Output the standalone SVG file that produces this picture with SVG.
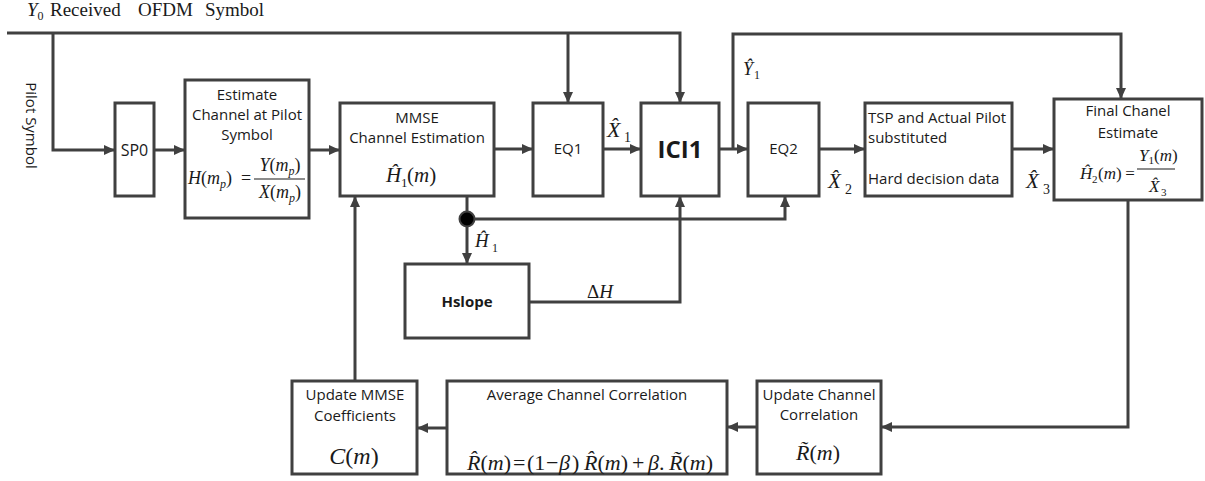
<svg xmlns="http://www.w3.org/2000/svg" width="1205" height="481" viewBox="0 0 1205 481">
<style>
.box{fill:#fff;stroke:#404040;stroke-width:3}
.ln{fill:none;stroke:#404040;stroke-width:3}
.ar{marker-end:url(#ah)}
.t{font-family:"Open Sans",sans-serif;font-size:15px;fill:#1a1a1a;text-anchor:middle}
.tl{font-family:"Open Sans",sans-serif;font-size:15px;fill:#1a1a1a}
.b{font-weight:bold}
.mu{font-family:"Liberation Serif",serif;fill:#1a1a1a}
.it{font-style:italic}
.c{text-anchor:middle}
</style>
<defs>
<marker id="ah" markerUnits="userSpaceOnUse" markerWidth="12" markerHeight="12" refX="11" refY="6" orient="auto">
<path d="M0,1 L11,6 L0,11 z" fill="#404040"/>
</marker>
</defs>
<rect width="1205" height="481" fill="#fff"/>

<g id="labels">
<text class="mu" x="27" y="16" font-size="19"><tspan class="it">Y</tspan><tspan font-size="12" dy="4">0</tspan><tspan dy="-4" x="50">Received</tspan><tspan x="138">OFDM</tspan><tspan x="205">Symbol</tspan></text>
<text class="t" x="0" y="0" dominant-baseline="central" transform="translate(32,125.5) rotate(90)">Pilot Symbol</text>
</g>

<g id="connectors">
<path class="ln ar" d="M7,33 H680 V103"/>
<path class="ln ar" d="M53,33 V150 H115"/>
<path class="ln ar" d="M568,33 V103"/>
<path class="ln ar" d="M154,150 H185"/>
<path class="ln ar" d="M309,150 H340"/>
<path class="ln ar" d="M494,149 H533"/>
<path class="ln ar" d="M603,149 H641"/>
<path class="ln ar" d="M719,149 H748"/>
<path class="ln ar" d="M733,149 V34 H1121 V99"/>
<path class="ln ar" d="M819,149 H865"/>
<path class="ln ar" d="M1012,149 H1054"/>
<path class="ln ar" d="M467,196 V264"/>
<path class="ln ar" d="M467,219 H785 V196"/>
<path class="ln ar" d="M529,302 H680 V196"/>
<path class="ln ar" d="M1128,200 V427 H881"/>
<path class="ln ar" d="M757,427 H727"/>
<path class="ln ar" d="M447,428 H417"/>
<path class="ln ar" d="M355,381 V196"/>
<circle cx="467" cy="219" r="7.5" fill="#000" stroke="#404040" stroke-width="2"/>
<text class="mu" x="607" y="137" font-size="22"><tspan class="it">X&#x302;</tspan><tspan font-size="14" dy="5" x="624">1</tspan></text>
<text class="mu" x="743" y="75" font-size="18"><tspan class="it">Y&#x302;</tspan><tspan font-size="12" dy="4" x="754">1</tspan></text>
<text class="mu" x="828" y="188" font-size="21"><tspan class="it">X&#x302;</tspan><tspan font-size="14" dy="6" x="845">2</tspan></text>
<text class="mu" x="1026" y="188" font-size="21"><tspan class="it">X&#x302;</tspan><tspan font-size="14" dy="6" x="1043">3</tspan></text>
<text class="mu" x="475" y="247" font-size="19"><tspan class="it">H&#x302;</tspan><tspan font-size="12" dy="5" x="492">1</tspan></text>
<text class="mu" x="587" y="298" font-size="19">Δ<tspan class="it">H</tspan></text>
</g>

<g id="sp0">
<rect class="box" x="115" y="103" width="39" height="93"/>
<text class="t" x="134.5" y="156" style="font-size:16px">SP0</text>
</g>

<g id="estimate">
<rect class="box" x="185" y="80" width="124" height="138"/>
<text class="t" x="247" y="100">Estimate</text>
<text class="t" x="247" y="120">Channel at Pilot</text>
<text class="t" x="247" y="140">Symbol</text>
<text class="mu" x="188" y="184" font-size="18"><tspan class="it">H</tspan>(<tspan class="it">m</tspan><tspan class="it" font-size="12" dy="4">p</tspan><tspan dy="-4">)</tspan></text>
<text class="mu c" x="246" y="184" font-size="18">=</text>
<line x1="254" y1="179" x2="305" y2="179" stroke="#1a1a1a" stroke-width="1.2"/>
<text class="mu c" x="280" y="171" font-size="18"><tspan class="it">Y</tspan>(<tspan class="it">m</tspan><tspan class="it" font-size="12" dy="4">p</tspan><tspan dy="-4">)</tspan></text>
<text class="mu c" x="280" y="198" font-size="18"><tspan class="it">X</tspan>(<tspan class="it">m</tspan><tspan class="it" font-size="12" dy="4">p</tspan><tspan dy="-4">)</tspan></text>
</g>

<g id="mmse">
<rect class="box" x="340" y="103" width="154" height="93"/>
<text class="t" x="417" y="123">MMSE</text>
<text class="t" x="417" y="143">Channel Estimation</text>
<text class="mu" x="386" y="182" font-size="21"><tspan class="it">H&#x302;</tspan><tspan font-size="13" dy="5" x="401">1</tspan><tspan dy="-5" x="407">(</tspan><tspan class="it">m</tspan>)</text>
</g>

<g id="eq1">
<rect class="box" x="533" y="103" width="70" height="93"/>
<text class="t" x="568" y="154">EQ1</text>
</g>

<g id="ici1">
<rect class="box" x="641" y="103" width="78" height="93"/>
<text class="t b" x="680" y="158" style="font-size:24px">ICI1</text>
</g>

<g id="eq2">
<rect class="box" x="748" y="103" width="71" height="93"/>
<text class="t" x="783.5" y="154">EQ2</text>
</g>

<g id="tsp">
<rect class="box" x="865" y="103" width="147" height="93"/>
<text class="tl" x="868" y="123">TSP and Actual Pilot</text>
<text class="tl" x="868" y="143">substituted</text>
<text class="tl" x="868" y="184">Hard decision data</text>
</g>

<g id="final">
<rect class="box" x="1054" y="99" width="148" height="101"/>
<text class="t" x="1128" y="116">Final Chanel</text>
<text class="t" x="1128" y="138">Estimate</text>
<text class="mu" x="1080" y="179" font-size="17"><tspan class="it">H&#x302;</tspan><tspan font-size="11" dy="4" x="1092">2</tspan><tspan dy="-4" x="1098">(</tspan><tspan class="it">m</tspan>)</text>
<text class="mu c" x="1130" y="179" font-size="17">=</text>
<line x1="1137" y1="169" x2="1175" y2="169" stroke="#1a1a1a" stroke-width="1.2"/>
<text class="mu" x="1139" y="161" font-size="17"><tspan class="it">Y</tspan><tspan font-size="11" dy="3">1</tspan><tspan dy="-3">(</tspan><tspan class="it">m</tspan>)</text>
<text class="mu" x="1149" y="192" font-size="17"><tspan class="it">X&#x302;</tspan><tspan font-size="11" dy="4" x="1161">3</tspan></text>
</g>

<g id="hslope">
<rect class="box" x="405" y="264" width="124" height="74"/>
<text class="t b" x="467" y="307">Hslope</text>
</g>

<g id="update-mmse">
<rect class="box" x="292" y="381" width="125" height="93"/>
<text class="t" x="355" y="400">Update MMSE</text>
<text class="t" x="355" y="421">Coefficients</text>
<text class="mu c" x="354" y="464" font-size="24"><tspan class="it">C</tspan>(<tspan class="it">m</tspan>)</text>
</g>

<g id="average">
<rect class="box" x="447" y="381" width="280" height="93"/>
<text class="t" x="587" y="400">Average Channel Correlation</text>
<text class="mu" x="467" y="470" font-size="22"><tspan class="it">R&#x302;</tspan>(<tspan class="it">m</tspan>)<tspan x="513">=</tspan><tspan x="527">(1</tspan><tspan x="546">−</tspan><tspan class="it" x="559">β</tspan><tspan x="572">)</tspan><tspan class="it" x="584">R&#x302;</tspan>(<tspan class="it">m</tspan>)<tspan x="632">+</tspan><tspan class="it" x="648">β</tspan>.<tspan class="it" x="669">R&#x303;</tspan>(<tspan class="it">m</tspan>)</text>
</g>

<g id="update-correlation">
<rect class="box" x="757" y="381" width="124" height="93"/>
<text class="t" x="819" y="400">Update Channel</text>
<text class="t" x="819" y="420">Correlation</text>
<text class="mu" x="796" y="460" font-size="22"><tspan class="it">R&#x303;</tspan>(<tspan class="it">m</tspan>)</text>
</g>
</svg>
